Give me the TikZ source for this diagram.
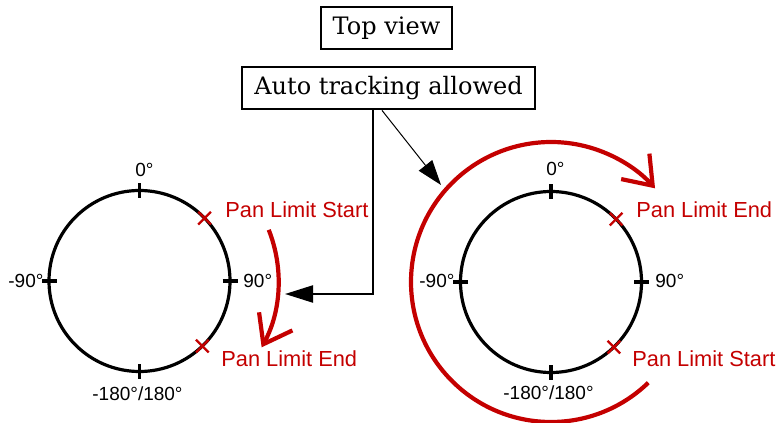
\documentclass[tikz,border=0pt]{standalone}
\usepackage{fontspec}
\setmainfont{DejaVu Serif}
\newfontfamily\labfont{Liberation Sans}
\usetikzlibrary{arrows.meta}
\definecolor{pred}{RGB}{196,0,0}
\begin{document}
\begin{tikzpicture}[x=0.5pt,y=0.5pt,
  circ/.style={line width=1.6pt,black},
  tickmark/.style={line width=1.6pt,black},
  lab/.style={font=\labfont\fontsize{9.5}{11}\selectfont,inner sep=0pt,anchor=base west},
  rlab/.style={font=\labfont\fontsize{10.9}{13}\selectfont,inner sep=0pt,anchor=base west,text=pred},
  xmark/.style={line width=1.1pt,pred},
  rarc/.style={line width=2.1pt,pred,-{Straight Barb[length=13pt,width=19pt]}},
  box/.style={draw,line width=1.4pt,font=\fontsize{12}{14}\selectfont,inner sep=0pt},
  conn/.style={line width=1.1pt,-{Triangle[length=14pt,width=8.5pt]}},
  thinconn/.style={line width=0.5pt,-{Triangle[length=12.5pt,width=8.5pt]}}]
\useasboundingbox (0,0) rectangle (779,422);
% titles
\node[box,minimum width=65.5pt,minimum height=21pt] (top) at (386.5,394) {Top view};
\node[box,minimum width=146.5pt,minimum height=21pt] (auto) at (388.5,334) {Auto tracking allowed};
% centers
\coordinate (lc) at (139.5,141);
\coordinate (rc) at (551,140);
% circles
\draw[circ] (lc) circle[radius=90.5];
\draw[circ] (rc) circle[radius=90.5];
\foreach \a in {0,90,180,270}{
  \draw[tickmark] ([shift={(\a:83)}]lc) -- ([shift={(\a:98)}]lc);
  \draw[tickmark] ([shift={(\a:83)}]rc) -- ([shift={(\a:98)}]rc);
}
\foreach \a in {44,-46}{
  \draw[xmark] ([shift={(\a:90.5)}]lc) +(45:9) -- +(225:9) +(135:9) -- +(315:9);
  \draw[xmark] ([shift={(\a:90.5)}]rc) +(45:9) -- +(225:9) +(135:9) -- +(315:9);
}
% left labels
\node[lab] (l0) at (135,245) {0°};
\node[lab] (lm90) at (8,134) {-90°};
\node[lab] (l90) at (243,134) {90°};
\node[lab] (l180) at (92,21.5) {-180°/180°};
\node[rlab] (lstart) at (225,204) {Pan Limit Start};
\node[rlab] (lend) at (221,55.5) {Pan Limit End};
% right labels
\node[lab] (r0) at (546,246) {0°};
\node[lab] (rm90) at (419,134) {-90°};
\node[lab] (r90) at (655,134) {90°};
\node[lab] (r180) at (503,23) {-180°/180°};
\node[rlab] (rend) at (636,204) {Pan Limit End};
\node[rlab] (rstart) at (632,55.5) {Pan Limit Start};
% red direction arcs
\draw[rarc] (lc) ++(21.6:139) arc[start angle=21.6, end angle=-28.5, radius=139];
\draw[rarc] (rc) ++(-46:140) arc[start angle=-46, end angle=-318, radius=140];
% connectors
\coordinate (k1) at (373,128);
\coordinate (t1) at (285,128);
\coordinate (s2) at (382,313);
\coordinate (t2) at (441,237);
\draw[conn] (auto.south -| k1) -- (k1) -- (t1);
\draw[thinconn] (auto.south -| s2) -- (t2);
\end{tikzpicture}
\end{document}
